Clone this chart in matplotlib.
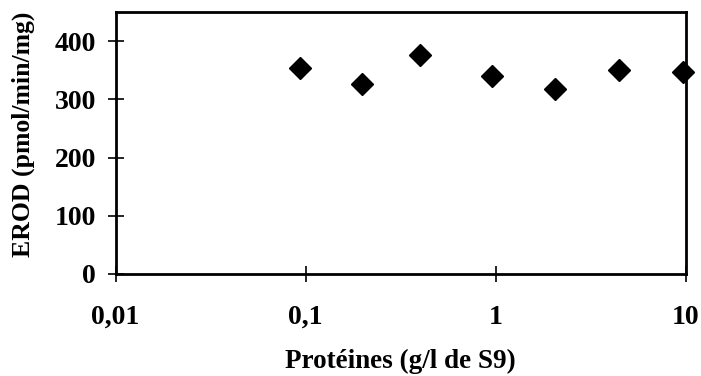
#!/usr/bin/env python3
import matplotlib
matplotlib.use("Agg")
import matplotlib.pyplot as plt
from matplotlib.ticker import FixedLocator, FixedFormatter, NullLocator

# protein concentration (g/l of S9) and EROD activity (pmol/min/mg)
proteines = [0.093, 0.197, 0.40, 0.95, 2.04, 4.42, 9.6]
erod = [353, 327, 377, 340, 318, 350, 347]

x_ticks = [0.01, 0.1, 1, 10]
x_tick_labels = ["0,01", "0,1", "1", "10"]
y_ticks = [0, 100, 200, 300, 400]

plt.rcParams["font.family"] = ["Liberation Serif", "DejaVu Serif"]
plt.rcParams["font.weight"] = "bold"


def main():
    fig = plt.figure(figsize=(7.01, 3.76), dpi=100)
    ax = fig.add_axes([0.1648, 0.2713, 0.8138, 0.6967])

    ax.plot(proteines, erod, linestyle="none", marker="D", markersize=11,
            color="black", clip_on=False, zorder=5)

    ax.set_xscale("log")
    ax.set_xlim(0.01, 10)
    ax.set_ylim(0, 450)
    ax.xaxis.set_major_locator(FixedLocator(x_ticks))
    ax.xaxis.set_major_formatter(FixedFormatter(x_tick_labels))
    ax.xaxis.set_minor_locator(NullLocator())
    ax.set_yticks(y_ticks)

    for side in ["left", "right", "top", "bottom"]:
        ax.spines[side].set_linewidth(2)
    ax.tick_params(direction="inout", length=12, width=1.2, labelsize=20)
    ax.tick_params(axis="y", pad=8)
    ax.tick_params(axis="x", pad=16)

    ax.set_xlabel("Protéines (g/l de S9)", fontsize=19.5, fontweight="bold")
    ax.set_ylabel("EROD (pmol/min/mg)", fontsize=18.5, fontweight="bold")
    ax.xaxis.set_label_coords(0.5, -0.285)
    ax.yaxis.set_label_coords(-0.141, 0.535)

    plt.savefig("out.png", dpi=100)
    plt.clf()


if __name__ == '__main__':
    main()
